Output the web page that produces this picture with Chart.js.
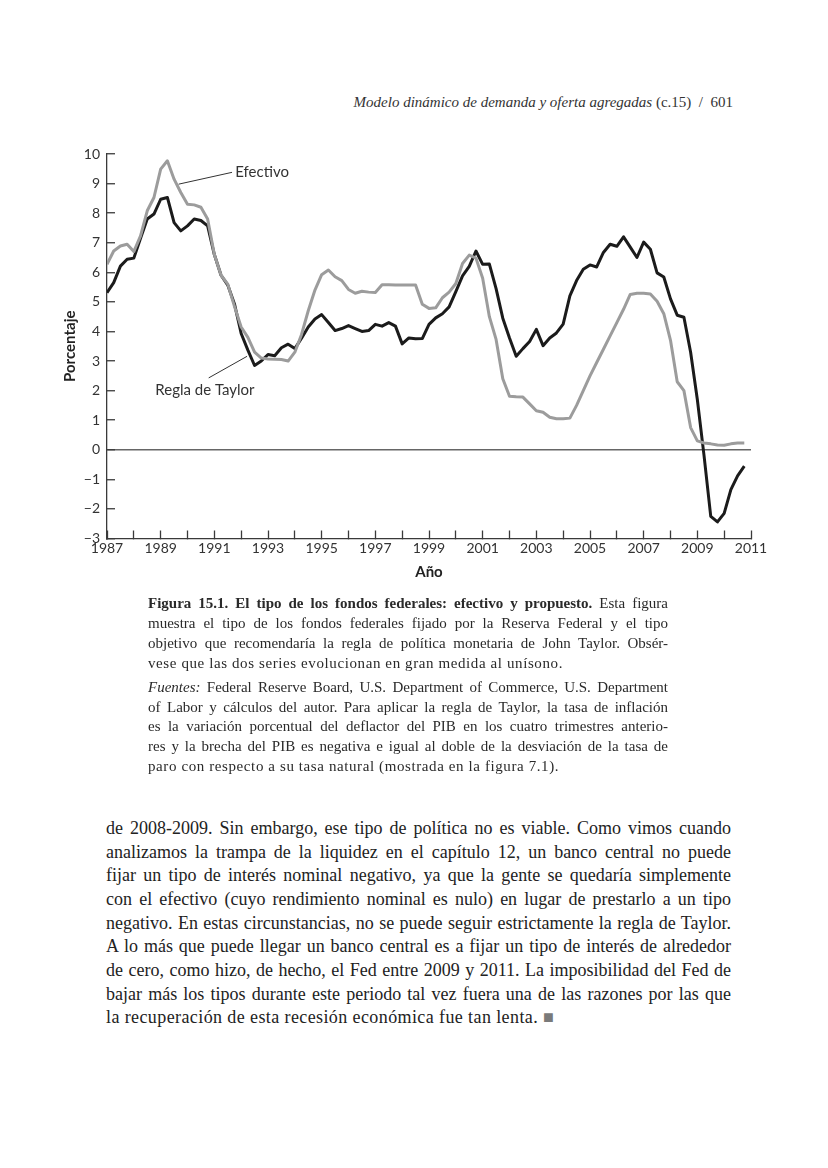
<!DOCTYPE html>
<html>
<head>
<meta charset="utf-8">
<script src="https://cdn.jsdelivr.net/npm/chart.js@4.4.1/dist/chart.umd.min.js"></script>
<style>
  html, body { margin: 0; padding: 0; background: #fff; }
  body { width: 828px; height: 1168px; position: relative; overflow: hidden; font-family: "Liberation Serif", "DejaVu Serif", serif; color: #222; }
  #head { position: absolute; right: 95px; top: 94px; font-size: 15px; white-space: nowrap; color: #333; }
  #chartBox { position: absolute; left: 0; top: 130px; width: 828px; height: 470px; }
  #caption { position: absolute; left: 148px; top: 594px; width: 520px; font-size: 15px; line-height: 19.9px; color: #2a2a2a; }
  #body { position: absolute; left: 106px; top: 817px; width: 625px; font-size: 18px; line-height: 23.65px; color: #222; }
  .j { text-align: justify; text-align-last: justify; white-space: nowrap; }
  .l { white-space: nowrap; }
  #caption .l { letter-spacing: 0.6px; }
  #body .l { letter-spacing: 0.4px; }
  .gap { height: 4px; }
  .sq { color: #7a7a7a; }
</style>
</head>
<body>
<div id="head"><i>Modelo dinámico de demanda y oferta agregadas</i> (c.15)&nbsp; /&nbsp; 601</div>

<div id="chartBox"><canvas id="fedChart" width="828" height="470"></canvas></div>

<div id="caption">
  <div class="j"><b>Figura 15.1. El tipo de los fondos federales: efectivo y propuesto.</b> Esta figura</div>
  <div class="j">muestra el tipo de los fondos federales fijado por la Reserva Federal y el tipo</div>
  <div class="j">objetivo que recomendaría la regla de política monetaria de John Taylor. Obsér-</div>
  <div class="l">vese que las dos series evolucionan en gran medida al unísono.</div>
  <div class="gap"></div>
  <div class="j"><i>Fuentes:</i> Federal Reserve Board, U.S. Department of Commerce, U.S. Department</div>
  <div class="j">of Labor y cálculos del autor. Para aplicar la regla de Taylor, la tasa de inflación</div>
  <div class="j">es la variación porcentual del deflactor del PIB en los cuatro trimestres anterio-</div>
  <div class="j">res y la brecha del PIB es negativa e igual al doble de la desviación de la tasa de</div>
  <div class="l">paro con respecto a su tasa natural (mostrada en la figura 7.1).</div>
</div>

<div id="body">
  <div class="j">de 2008-2009. Sin embargo, ese tipo de política no es viable. Como vimos cuando</div>
  <div class="j">analizamos la trampa de la liquidez en el capítulo 12, un banco central no puede</div>
  <div class="j">fijar un tipo de interés nominal negativo, ya que la gente se quedaría simplemente</div>
  <div class="j">con el efectivo (cuyo rendimiento nominal es nulo) en lugar de prestarlo a un tipo</div>
  <div class="j">negativo. En estas circunstancias, no se puede seguir estrictamente la regla de Taylor.</div>
  <div class="j">A lo más que puede llegar un banco central es a fijar un tipo de interés de alrededor</div>
  <div class="j">de cero, como hizo, de hecho, el Fed entre 2009 y 2011. La imposibilidad del Fed de</div>
  <div class="j">bajar más los tipos durante este periodo tal vez fuera una de las razones por las que</div>
  <div class="l">la recuperación de esta recesión económica fue tan lenta. <span class="sq">■</span></div>
</div>

<script>
// quarterly observations, 1987Q1 .. 2010Q4
var firstYear = 1987, lastYear = 2010;
var quarters = [];
for (var yr = firstYear; yr <= lastYear; yr++) {
  for (var q = 0; q < 4; q++) quarters.push(yr + q / 4);
}

// tipo efectivo de los fondos federales (gris)
var efectivo = [
  6.27, 6.72, 6.89, 6.95,  6.70, 7.23, 8.08, 8.53,
  9.49, 9.77, 9.15, 8.70,  8.30, 8.28, 8.20, 7.80,
  6.60, 5.90, 5.60, 4.85,  4.15, 3.80, 3.30, 3.10,
  3.07, 3.06, 3.05, 3.00,  3.30, 3.90, 4.70, 5.40,
  5.92, 6.08, 5.85, 5.72,  5.42, 5.29, 5.36, 5.33,
  5.32, 5.58, 5.58, 5.57,  5.57, 5.57, 5.57, 4.92,
  4.78, 4.80, 5.14, 5.33,  5.62, 6.30, 6.58, 6.48,
  5.80, 4.50, 3.73, 2.40,  1.81, 1.79, 1.78, 1.55,
  1.32, 1.27, 1.10, 1.05,  1.05, 1.07, 1.50, 2.00,
  2.50, 2.95, 3.40, 3.85,  4.30, 4.75, 5.25, 5.29,
  5.29, 5.27, 5.02, 4.60,  3.70, 2.30, 2.00, 0.75,
  0.30, 0.23, 0.20, 0.16,  0.15, 0.20, 0.23, 0.23
];

// tipo recomendado por la regla de Taylor (negro)
var reglaTaylor = [
  5.31, 5.65, 6.21, 6.44,  6.48, 7.15, 7.80, 7.97,
  8.47, 8.53, 7.68, 7.40,  7.57, 7.80, 7.75, 7.57,
  6.60, 5.90, 5.57, 4.93,  3.93, 3.37, 2.85, 3.00,
  3.22, 3.18, 3.45, 3.57,  3.42, 3.77, 4.15, 4.42,
  4.57, 4.30, 4.03, 4.10,  4.20, 4.10, 4.00, 4.03,
  4.24, 4.18, 4.30, 4.18,  3.58, 3.78, 3.75, 3.76,
  4.24, 4.46, 4.60, 4.83,  5.35, 5.88, 6.20, 6.72,
  6.27, 6.28, 5.45, 4.45,  3.78, 3.16, 3.42, 3.66,
  4.07, 3.52, 3.78, 3.95,  4.25, 5.20, 5.72, 6.10,
  6.25, 6.18, 6.67, 6.95,  6.88, 7.20, 6.85, 6.50,
  7.02, 6.78, 5.98, 5.84,  5.10, 4.55, 4.48, 3.30,
  1.70, -0.20, -2.25, -2.44, -2.15, -1.35, -0.88, -0.55
];

// labels next to the lines, with a thin leader line (year, value)
var notes = [
  { text: 'Efectivo', x: 1991.78, y: 9.38, from: [1989.67, 8.98], to: [1991.66, 9.38] },
  { text: 'Regla de Taylor', x: 1988.8, y: 2.01, from: [1990.79, 2.43], to: [1992.22, 3.16] }
];

function pairs(vals) {
  return vals.map(function (v, i) { return { x: quarters[i], y: v }; });
}

var axisFont = { family: 'Lato', size: 14 };
var inkAxis = '#3a3a3a';

var notesPlugin = {
  id: 'notes',
  afterDatasetsDraw: function (chart) {
    var ctx = chart.ctx, xs = chart.scales.x, ys = chart.scales.y;
    ctx.save();
    ctx.strokeStyle = '#333';
    ctx.lineWidth = 1;
    ctx.fillStyle = '#333';
    ctx.font = '15px Lato';
    ctx.textBaseline = 'middle';
    ctx.textAlign = 'left';
    notes.forEach(function (n) {
      ctx.beginPath();
      ctx.moveTo(xs.getPixelForValue(n.from[0]), ys.getPixelForValue(n.from[1]));
      ctx.lineTo(xs.getPixelForValue(n.to[0]), ys.getPixelForValue(n.to[1]));
      ctx.stroke();
      ctx.fillText(n.text, xs.getPixelForValue(n.x), ys.getPixelForValue(n.y));
    });
    ctx.restore();
  }
};

new Chart(document.getElementById('fedChart'), {
  type: 'line',
  data: {
    datasets: [
      {
        label: 'Efectivo',
        data: pairs(efectivo),
        borderColor: '#9c9c9c',
        borderWidth: 3,
        pointRadius: 0,
        tension: 0,
        borderJoinStyle: 'round'
      },
      {
        label: 'Regla de Taylor',
        data: pairs(reglaTaylor),
        borderColor: '#1b1b1b',
        borderWidth: 3,
        pointRadius: 0,
        tension: 0,
        borderJoinStyle: 'round'
      }
    ]
  },
  options: {
    responsive: false,
    animation: false,
    layout: { padding: { left: 0, right: 77, top: 24, bottom: 11.5 } },
    plugins: {
      legend: { display: false },
      tooltip: { enabled: false }
    },
    scales: {
      x: {
        type: 'linear',
        min: 1987,
        max: 2011,
        afterFit: function (s) { s.height = 50; },
        border: { color: inkAxis, width: 1.3 },
        grid: { drawOnChartArea: false, tickLength: -8, tickColor: inkAxis, tickWidth: 1.3 },
        ticks: {
          stepSize: 1,
          autoSkip: false,
          maxRotation: 0,
          padding: 10,
          color: '#333',
          font: axisFont,
          callback: function (v) { return (v - 1987) % 2 === 0 ? String(v) : ''; }
        },
        title: {
          display: true,
          text: 'Año',
          color: '#222',
          font: { family: 'Lato', size: 15, weight: 'bold' },
          padding: { top: 0, bottom: 7.5 }
        }
      },
      y: {
        min: -3,
        max: 10,
        afterFit: function (s) { s.width = 107; },
        border: { color: inkAxis, width: 1.3 },
        grid: {
          tickLength: -8,
          tickColor: inkAxis,
          tickWidth: 1.3,
          lineWidth: 1.5,
          color: function (c) { return c.tick && c.tick.value === 0 ? '#666' : 'rgba(0,0,0,0)'; }
        },
        ticks: {
          stepSize: 1,
          padding: 15,
          color: '#333',
          font: axisFont,
          callback: function (v) { return v < 0 ? '\u2212' + Math.abs(v) : String(v); }
        },
        title: {
          display: true,
          text: 'Porcentaje',
          color: '#222',
          font: { family: 'Lato', size: 15, weight: 'bold' },
          padding: { top: 61, bottom: 0 }
        }
      }
    }
  },
  plugins: [notesPlugin]
});
</script>
</body>
</html>
